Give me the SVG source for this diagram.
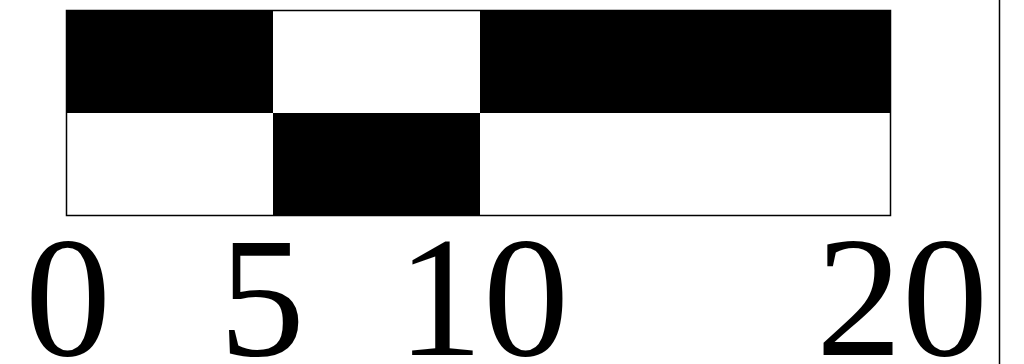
<svg xmlns="http://www.w3.org/2000/svg" width="1024" height="364" viewBox="0 0 1024 364">
<style>
.b{fill:#000}
.w{fill:#fff}
.lbl{font-family:'Liberation Serif','Times New Roman',serif;font-size:172px;fill:#000}
</style>
<rect x="0" y="0" width="1024" height="364" fill="#fff"/>
<g id="bar">
<rect class="b" x="66" y="10" width="207" height="103"/>
<rect class="w" x="273" y="10" width="207" height="103"/>
<rect class="b" x="480" y="10" width="411" height="103"/>
<rect class="w" x="66" y="113" width="207" height="103"/>
<rect class="b" x="273" y="113" width="207" height="103"/>
<rect class="w" x="480" y="113" width="411" height="103"/>
<rect x="66.5" y="10.5" width="824" height="205" fill="none" stroke="#000" stroke-width="1.5"/>
</g>
<line x1="999.5" y1="0" x2="999.5" y2="364" stroke="#000" stroke-width="1.5"/>
<g id="labels">
<text class="lbl" x="25" y="355">0</text>
<text class="lbl" x="219" y="355">5</text>
<text class="lbl" x="397" y="355">10</text>
<text class="lbl" x="816" y="355">20</text>
</g>
</svg>
